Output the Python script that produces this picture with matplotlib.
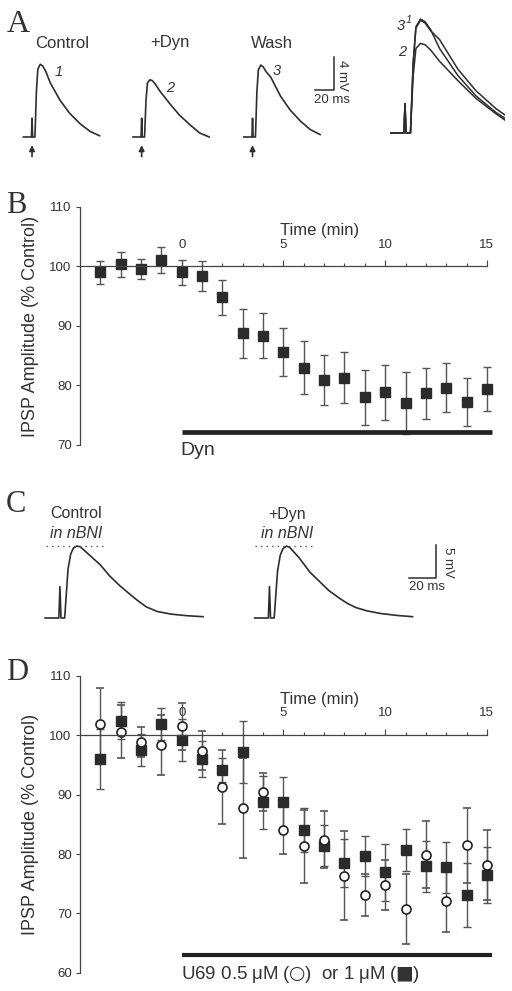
import numpy as np
import matplotlib
matplotlib.use("Agg")
import matplotlib.pyplot as plt

plt.rcParams['font.family'] = ['Liberation Sans', 'DejaVu Sans']
plt.rcParams['mathtext.fontset'] = 'dejavusans'

# ---- data ----
# time course (min), panels B and D
TIME_MIN = list(range(-4, 16))

B_MEAN = [99.0, 100.4, 99.6, 101.1, 99.05, 98.4, 94.8, 88.8, 88.4, 85.6,
          83.0, 80.9, 81.3, 78.0, 78.85, 77.1, 78.7, 79.6, 77.2, 79.4]
B_ERR = [1.9, 2.1, 1.7, 2.2, 2.1, 2.6, 3.0, 4.1, 3.8, 4.0,
         4.4, 4.2, 4.3, 4.6, 4.6, 5.2, 4.3, 4.1, 4.0, 3.7]

D_CIRC = [101.9, 100.6, 98.9, 98.4, 101.5, 97.4, 91.3, 87.7, 90.5, 84.0,
          81.3, 82.4, 76.3, 73.1, 74.8, 70.8, 79.9, 72.1, 81.5, 78.1]
D_CIRC_ERR = [6.0, 4.5, 2.5, 5.0, 4.0, 3.3, 6.3, 8.4, 3.2, 4.0,
              6.1, 4.8, 7.5, 3.5, 4.2, 5.9, 5.7, 5.2, 6.3, 5.9]
D_SQ = [96.0, 102.5, 97.6, 101.9, 99.2, 96.0, 94.1, 97.2, 88.7, 88.7,
        84.0, 81.4, 78.5, 79.7, 76.9, 80.7, 77.9, 77.8, 73.1, 76.4]
D_SQ_ERR = [5.0, 3.2, 2.7, 2.7, 3.6, 3.0, 2.0, 5.3, 4.4, 4.3,
            3.7, 3.5, 4.0, 3.4, 4.8, 3.5, 4.3, 4.3, 5.4, 4.7]

DRUG_START, DRUG_END = 0, 15.25

# IPSP traces, panel A (ms after stimulus, mV)
A_T = [-9, -0.6, 0, 0.6, 3, 4.5, 6, 8.5, 11, 14, 19, 29, 39, 50, 60, 70]
A_CTRL = [0, 0, 2.3, 0, 0, 5.5, 8.3, 8.9, 8.7, 8.1, 6.6, 4.5, 2.9, 1.6, 0.7, 0.15]
A_DYN = [0, 0, 2.3, 0, 0, 4.5, 6.6, 7.0, 6.9, 6.5, 5.6, 4.1, 2.7, 1.5, 0.5, 0.0]
A_WASH = [0, 0, 2.3, 0, 0, 5.5, 8.2, 8.8, 8.6, 8.0, 7.3, 5.0, 3.3, 1.9, 0.9, 0.3]

# IPSP traces, panel C (in nBNI)
C_T = [-11, -0.8, 0, 0.8, 3.5, 6, 8, 10, 12.5, 15, 22, 30, 37, 44, 52, 58,
       64, 72, 82, 94, 106]
C_CTRL = [0, 0, 4.8, 0, 0, 7.5, 9.8, 10.7, 11.0, 10.9, 9.6, 8.1, 6.4, 5.0,
          3.6, 2.6, 1.7, 1.0, 0.6, 0.35, 0.2]
C_DYN = [0, 0, 4.8, 0, 0, 7.2, 9.6, 10.6, 11.0, 10.8, 9.2, 7.0, 5.6, 4.2,
         3.0, 2.2, 1.6, 1.1, 0.7, 0.4, 0.2]

INK = '#2e2e2e'
TXT = '#333333'

W, H = 512, 991
fig = plt.figure(figsize=(W / 100, H / 100), dpi=100)


def px_axes(x0, y0, x1, y1):
    return fig.add_axes([x0 / W, 1 - y1 / H, (x1 - x0) / W, (y1 - y0) / H])


def ftext(x, y, s, **kw):
    kw.setdefault('color', TXT)
    fig.text(x / W, 1 - y / H, s, **kw)


def trace_axes(x0, y0, x1, y1, px_ms, px_mv, base_px):
    ax = px_axes(x0, y0, x1, y1)
    ax.set_xlim(0, (x1 - x0) / px_ms)
    ax.set_ylim((base_px - y1) / px_mv, (base_px - y0) / px_mv)
    ax.axis('off')
    return ax


def shifted(t, off):
    return np.asarray(t, dtype=float) + off


# ---------------- Panel A ----------------
axA = trace_axes(0, 40, 350, 160, 0.965, 8.17, 137)
stims = [33.2, 146.8, 261.7]
for v, off in zip([A_CTRL, A_DYN, A_WASH], stims):
    axA.plot(shifted(A_T, off), v, color=INK, lw=1.2)
    axA.annotate('', xy=(off, -1.0), xytext=(off, -2.4),
                 arrowprops=dict(arrowstyle='-|>', color=INK, lw=1.2,
                                 mutation_scale=8, shrinkA=0, shrinkB=0))
# scale bar 20 ms / 4 mV
axA.plot([326.4, 346.4, 346.4], [5.75, 5.75, 9.75], color=INK, lw=1.1,
         clip_on=False)

ftext(7, 31.7, 'A', fontsize=23, family='Liberation Serif', va='baseline')
for lab, x in zip(['Control', '+Dyn', 'Wash'], [62, 170, 272]):
    ftext(x, 43, lab, fontsize=12, ha='center', va='center')
for lab, x, y in zip(['1', '2', '3'], [59, 170, 277], [72, 88, 71]):
    ftext(x, y, lab, fontsize=10.5, style='italic', ha='center', va='center')
ftext(342, 75, '4 mV', fontsize=9.5, rotation=-90, ha='center', va='center')
ftext(332, 100, '20 ms', fontsize=9.5, ha='center', va='center')

# superimposed traces
axS = trace_axes(390, 5, 505, 140, 1.82, 12.8, 133)
for v in [A_DYN, A_WASH, A_CTRL]:
    axS.plot(shifted(A_T, 8.24), v, color=INK, lw=1.1)
ftext(401, 26, '3', fontsize=10.5, style='italic', ha='center', va='center')
ftext(409, 20, '1', fontsize=8, style='italic', ha='center', va='center')
ftext(402, 52, '2', fontsize=10.5, style='italic', ha='center', va='center')


# ---------------- time course axes ----------------
def time_axes(ax, ylo, yhi):
    ax.set_xlim(-5, 15.35)
    ax.set_ylim(ylo, yhi)
    ax.patch.set_visible(False)
    ax.spines['right'].set_visible(False)
    ax.spines['bottom'].set_visible(False)
    ax.spines['top'].set_position(('data', 100))
    ax.spines['top'].set_bounds(-5, 15)
    ax.spines['left'].set_bounds(ylo, yhi)
    for s in ['top', 'left']:
        ax.spines[s].set_color('#444444')
        ax.spines[s].set_linewidth(0.9)
    ax.xaxis.set_ticks_position('top')
    ax.set_xticks([0, 5, 10, 15])
    ax.set_xticks(range(1, 15), minor=True)
    ax.tick_params(axis='x', which='major', direction='out', length=4.5,
                   width=0.8, pad=7, labelsize=9.5, colors='#444444',
                   labelcolor=TXT)
    ax.tick_params(axis='x', which='minor', direction='out', length=2.2,
                   width=0.8, colors='#444444')
    ax.set_yticks(range(ylo, yhi + 1, 10))
    ax.tick_params(axis='y', direction='out', length=3, width=0.8, pad=3,
                   labelsize=9.5, colors='#444444', labelcolor=TXT)
    ax.set_ylabel('IPSP Amplitude (% Control)', fontsize=13, color=TXT)
    ax.yaxis.set_label_coords(-0.1, 0.5)
    ax.text(6.8, 106.1, 'Time (min)', fontsize=12, color=TXT,
            ha='center', va='center')


# ---------------- Panel B ----------------
axB = px_axes(80, 207, 494, 445)
time_axes(axB, 70, 110)
axB.errorbar(TIME_MIN, B_MEAN, yerr=B_ERR, fmt='s', ms=7.3, mfc='#2b2b2b',
             mec='#2b2b2b', ecolor='#555555', elinewidth=1, capsize=3,
             capthick=1, clip_on=False)
axB.plot([DRUG_START, DRUG_END], [72.2, 72.2], color='#222222', lw=3.4,
         solid_capstyle='butt', clip_on=False)
axB.text(-0.05, 68.3, 'Dyn', fontsize=14, color=TXT, va='baseline')
ftext(6, 213.3, 'B', fontsize=22, family='Liberation Serif', va='baseline')

# ---------------- Panel C ----------------
axC = trace_axes(0, 490, 470, 625, 1.35, 6.54, 618)
for v, off in zip([C_CTRL, C_DYN], [44.4, 199.6]):
    axC.plot(shifted(C_T, off), v, color=INK, lw=1.2)
    axC.plot([off - 10.6, off + 33.3], [max(v), max(v)], color='#555555',
             lw=1, linestyle=(0, (1, 3)))
axC.plot([303, 323, 323], [6.16, 6.16, 11.16], color=INK, lw=1.1)
ftext(6, 511.7, 'C', fontsize=22, family='Liberation Serif', va='baseline')
for x, lab in zip([76, 287], ['Control', '+Dyn']):
    ftext(x, 514, lab, fontsize=11.5, ha='center', va='center')
    ftext(x, 533, 'in nBNI', fontsize=11.5, style='italic', ha='center',
          va='center')
ftext(448, 562, '5 mV', fontsize=9.5, rotation=-90, ha='center', va='center')
ftext(427, 587, '20 ms', fontsize=9.5, ha='center', va='center')

# ---------------- Panel D ----------------
axD = px_axes(80, 676, 494, 972.7)
time_axes(axD, 60, 110)
axD.errorbar(TIME_MIN, D_SQ, yerr=D_SQ_ERR, fmt='s', ms=6.8, mfc='#2b2b2b',
             mec='#2b2b2b', ecolor='#555555', elinewidth=1, capsize=3,
             capthick=1, clip_on=False)
axD.errorbar(TIME_MIN, D_CIRC, yerr=D_CIRC_ERR, fmt='o', ms=6.5, mfc='white',
             mec='#222222', mew=1.2, ecolor='#555555', elinewidth=1,
             capsize=3, capthick=1, clip_on=False)
axD.plot([DRUG_START, DRUG_END], [62.9, 62.9], color='#222222', lw=3.0,
         solid_capstyle='butt', clip_on=False)
axD.text(-0.05, 58.9,
         'U69 0.5 \u03bcM\u2009($\\bigcirc$)  or 1 \u03bcM\u2009($\\blacksquare$)',
         fontsize=13.5, color=TXT, va='baseline')
ftext(6, 680, 'D', fontsize=22, family='Liberation Serif', va='baseline')

fig.savefig('out.png', dpi=100)
